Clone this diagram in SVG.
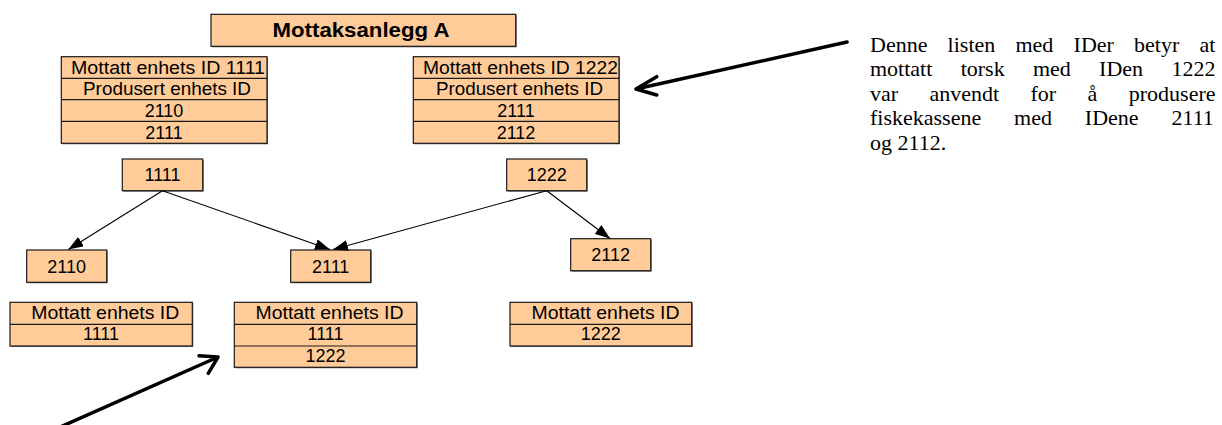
<svg xmlns="http://www.w3.org/2000/svg" width="1222" height="425" viewBox="0 0 1222 425">
<defs>
<style>
.box{fill:#FFCC99;stroke:#1a1a1a;stroke-width:1.2}
.sh{fill:#6b6b6b}
.row{fill:none;stroke:#1a1a1a;stroke-width:1.2}
.t{font-family:"Liberation Sans",Arial,sans-serif;font-size:18px;fill:#000;text-anchor:middle}
.tb{font-family:"Liberation Sans",Arial,sans-serif;font-size:21px;font-weight:bold;fill:#000;text-anchor:middle}
.conn{stroke:#000;stroke-width:1.1;fill:none}
.big{stroke:#000;stroke-width:3.5;fill:none;stroke-linecap:round;stroke-linejoin:round}
.note{font-family:"Liberation Serif","Times New Roman",serif;font-size:22px;fill:#000}
</style>
<marker id="ah" viewBox="0 0 15 11" refX="15" refY="5.5" markerWidth="15" markerHeight="11" markerUnits="userSpaceOnUse" orient="auto">
<path d="M0,0 L15,5.5 L0,11 z" fill="#000"/>
</marker>
</defs>
<rect width="1222" height="425" fill="#fff"/>

<g id="title">
<rect class="sh" x="212" y="15.3" width="304.7" height="32"/>
<rect class="box" x="211" y="14.3" width="304.7" height="32"/>
<text class="tb" x="361" y="37" textLength="177" lengthAdjust="spacingAndGlyphs">Mottaksanlegg A</text>
</g>

<g id="table-1111">
<rect class="sh" x="62.3" y="57.7" width="205.7" height="86.6"/>
<rect class="box" x="61.3" y="56.7" width="205.7" height="86.6"/>
<path class="row" d="M61.3,78.3H267M61.3,99.7H267M61.3,121.3H267"/>
<text class="t" x="168" y="73.5" textLength="194" lengthAdjust="spacingAndGlyphs">Mottatt enhets ID 1111</text>
<text class="t" x="167" y="95" textLength="168" lengthAdjust="spacingAndGlyphs">Produsert enhets ID</text>
<text class="t" x="164" y="117">2110</text>
<text class="t" x="164" y="138.5">2111</text>
</g>

<g id="table-1222">
<rect class="sh" x="414.3" y="57.7" width="205.7" height="86.6"/>
<rect class="box" x="413.3" y="56.7" width="205.7" height="86.6"/>
<path class="row" d="M413.3,78.3H619M413.3,99.7H619M413.3,121.3H619"/>
<text class="t" x="520.5" y="73.5" textLength="195" lengthAdjust="spacingAndGlyphs">Mottatt enhets ID 1222</text>
<text class="t" x="519.5" y="95" textLength="167" lengthAdjust="spacingAndGlyphs">Produsert enhets ID</text>
<text class="t" x="516" y="117">2111</text>
<text class="t" x="516" y="138.5">2112</text>
</g>

<g id="node-1111">
<rect class="sh" x="123.3" y="160" width="80.4" height="31.7"/>
<rect class="box" x="122.3" y="159" width="80.4" height="31.7"/>
<text class="t" x="162.5" y="181">1111</text>
</g>
<g id="node-1222">
<rect class="sh" x="507.7" y="160" width="80" height="31.7"/>
<rect class="box" x="506.7" y="159" width="80" height="31.7"/>
<text class="t" x="546.7" y="181">1222</text>
</g>
<g id="node-2110">
<rect class="sh" x="27.7" y="251" width="80" height="32.3"/>
<rect class="box" x="26.7" y="250" width="80" height="32.3"/>
<text class="t" x="66.7" y="272.5">2110</text>
</g>
<g id="node-2111">
<rect class="sh" x="291.7" y="251" width="80" height="32.3"/>
<rect class="box" x="290.7" y="250" width="80" height="32.3"/>
<text class="t" x="330.7" y="272.5">2111</text>
</g>
<g id="node-2112">
<rect class="sh" x="571.7" y="239.7" width="80" height="32"/>
<rect class="box" x="570.7" y="238.7" width="80" height="32"/>
<text class="t" x="610.7" y="261">2112</text>
</g>

<g id="table-bottom-1111">
<rect class="sh" x="11" y="303.3" width="182.3" height="43.7"/>
<rect class="box" x="10" y="302.3" width="182.3" height="43.7"/>
<path class="row" d="M10,324.3H192.3"/>
<text class="t" x="105.3" y="318.5" textLength="148" lengthAdjust="spacingAndGlyphs">Mottatt enhets ID</text>
<text class="t" x="101" y="340">1111</text>
</g>
<g id="table-bottom-2111">
<rect class="sh" x="235.3" y="303.3" width="182.4" height="65"/>
<rect class="box" x="234.3" y="302.3" width="182.4" height="65"/>
<path class="row" d="M234.3,324.3H416.7M234.3,346H416.7"/>
<text class="t" x="329.5" y="318.5" textLength="148" lengthAdjust="spacingAndGlyphs">Mottatt enhets ID</text>
<text class="t" x="325.5" y="340">1111</text>
<text class="t" x="325.5" y="361.5">1222</text>
</g>
<g id="table-bottom-2112">
<rect class="sh" x="511" y="303.3" width="181.7" height="43.7"/>
<rect class="box" x="510" y="302.3" width="181.7" height="43.7"/>
<path class="row" d="M510,324.3H691.7"/>
<text class="t" x="605.5" y="318.5" textLength="148" lengthAdjust="spacingAndGlyphs">Mottatt enhets ID</text>
<text class="t" x="600.8" y="340">1222</text>
</g>

<g id="connectors">
<line class="conn" x1="162.5" y1="190.7" x2="68.3" y2="249.5" marker-end="url(#ah)"/>
<line class="conn" x1="162.5" y1="190.7" x2="330" y2="249.5" marker-end="url(#ah)"/>
<line class="conn" x1="546.7" y1="190.7" x2="333" y2="249.5" marker-end="url(#ah)"/>
<line class="conn" x1="546.7" y1="190.7" x2="610" y2="238.5" marker-end="url(#ah)"/>
<path class="big" d="M847,42L636,89M656.7,76.7L636,89L656.7,95"/>
<path class="big" d="M58,428L218,357M199,355.7L218,357L208.3,373.3"/>
</g>

<g id="note">
<text class="note" x="870" y="52" style="word-spacing:14.7px">Denne listen med IDer betyr at</text>
<text class="note" x="870" y="76.4" style="word-spacing:22.8px">mottatt torsk med IDen 1222</text>
<text class="note" x="870" y="100.8" style="word-spacing:25.9px">var anvendt for å produsere</text>
<text class="note" x="870" y="125.2" style="word-spacing:27.4px">fiskekassene med IDene 2111</text>
<text class="note" x="870" y="149.6">og 2112.</text>
</g>
</svg>
